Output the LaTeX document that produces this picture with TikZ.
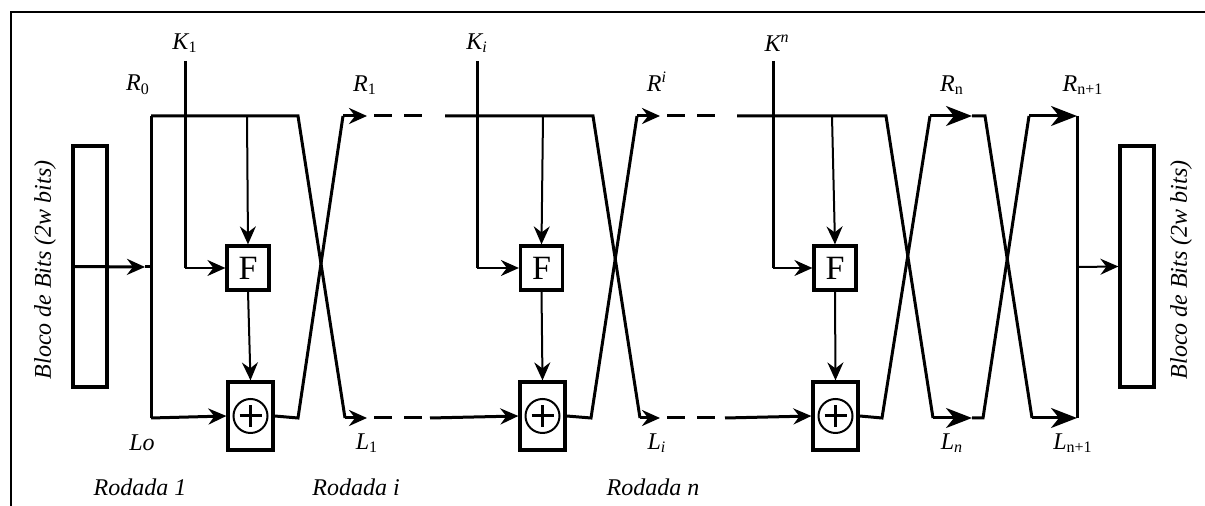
\documentclass[tikz,border=0pt]{standalone}
\usepackage{fontspec}
\setmainfont{Liberation Serif}
\usetikzlibrary{arrows.meta}
\begin{document}
\begin{tikzpicture}[x=0.5pt,y=-0.5pt,
  thk/.style={line width=1.5pt},
  thn/.style={line width=1pt},
  dsh/.style={line width=1.5pt, dash pattern=on 9pt off 6pt},
  sa/.style={-{Stealth[length=9pt,width=8pt,inset=3pt]}},
  ba/.style={-{Stealth[length=13pt,width=10pt,inset=4pt]}},
  box/.style={draw, line width=1.6pt, inner sep=0pt},
  blk/.style={box, minimum width=17pt, minimum height=120.5pt},
  fbox/.style={box, minimum width=21pt, minimum height=22pt, font=\fontsize{17}{17}\selectfont},
  xbox/.style={box, minimum width=22.5pt, minimum height=34pt},
  lbl/.style={font=\fontsize{12}{14}\selectfont\itshape, inner sep=0pt},
  ]
\useasboundingbox (0,0) rectangle (1205,506);
\draw[line width=1.2pt] (1205,12) -- (11,12) -- (11,506);

% blocks
\node[blk] (inblk) at (90,266.5) {};
\node[blk] (outblk) at (1137,266.5) {};
\node[lbl, rotate=90] (intext) at (45,270) {Bloco de Bits (2w bits)};
\node[lbl, rotate=90] (outtext) at (1181,270) {Bloco de Bits (2w bits)};

% function and xor boxes
\node[fbox] (F1) at (248,268) {F};
\node[fbox] (F2) at (541.5,268) {F};
\node[fbox] (F3) at (835,268) {F};
\node[xbox] (X1) at (250.5,416) {};
\node[xbox] (X2) at (542.5,416) {};
\node[xbox] (X3) at (835.5,416) {};
\foreach \x in {X1,X2,X3}{
  \draw[line width=1pt] (\x.center) circle (8.5pt);
  \draw[line width=1.5pt] ([xshift=-5.5pt]\x.center) -- ([xshift=5.5pt]\x.center);
  \draw[line width=1.5pt] ([yshift=-5.5pt]\x.center) -- ([yshift=5.5pt]\x.center);
}

% labels
\node[lbl] (k1l) at (185,43) {K\textsubscript{\upshape 1}};
\node[lbl] (kil) at (477,43) {K\textsubscript{i}};
\node[lbl] (knl) at (777,43) {K\textsuperscript{n}};
\node[lbl] (r0l) at (138,85) {R\textsubscript{\upshape 0}};
\node[lbl] (r1l) at (365,85) {R\textsubscript{\upshape 1}};
\node[lbl] (ril) at (657,82) {R\textsuperscript{i}};
\node[lbl] (rnl) at (952,85) {R\textsubscript{\upshape n}};
\node[lbl] (rn1l) at (1083,85) {R\textsubscript{\upshape n+1}};
\node[lbl] (l0l) at (142,443) {Lo};
\node[lbl] (l1l) at (367,443) {L\textsubscript{\upshape 1}};
\node[lbl] (lil) at (657,443) {L\textsubscript{i}};
\node[lbl] (lnl) at (952,443) {L\textsubscript{n}};
\node[lbl] (ln1l) at (1073,443) {L\textsubscript{\upshape n+1}};
\node[lbl] (rod1) at (140,487) {Rodada 1};
\node[lbl] (rodi) at (356,487) {Rodada i};
\node[lbl] (rodn) at (653,487) {Rodada n};

% ---------- round 1
\coordinate (in1) at (145,267);
\coordinate (s1) at (151,267);
\coordinate (tl1) at (151,116);
\coordinate (bl1) at (151,418);
\coordinate (tr1) at (298,116);
\coordinate (br1) at (298,418);
\coordinate (to1) at (343,116);
\coordinate (bo1) at (345,418);
\coordinate (k1t) at (185,61);
\coordinate (k1c) at (185,268);
\coordinate (f1t) at (247,116);
\draw[thk, sa] (inblk.west) -- (in1);
\draw[thk] (in1) -- (s1);
\draw[thk] (tl1) -- (bl1);
\draw[thk] (tl1) -- (tr1) -- (bo1);
\draw[thk] (X1.east) -- (br1) -- (to1);
\draw[thk, sa] (bl1) -- (X1.west);
\draw[thk] (k1t) -- (k1c);
\draw[thn, sa] (k1c) -- (F1.west);
\draw[thn, sa] (f1t) -- (F1.north);
\draw[thn, sa] (F1.south) -- (X1.north);
\coordinate (a1t) at (367,116);
\coordinate (a1b) at (367,418);
\coordinate (d1ts) at (374,116);
\coordinate (d1te) at (425,116);
\coordinate (d1bs) at (374,418);
\coordinate (d1be) at (425,418);
\draw[thk, sa] (to1) -- (a1t);
\draw[thk, sa] (bo1) -- (a1b);
\draw[dsh] (d1ts) -- (d1te);
\draw[dsh] (d1bs) -- (d1be);

% ---------- round 2
\coordinate (tl2) at (445,116);
\coordinate (bl2) at (430,418);
\coordinate (tr2) at (593,116);
\coordinate (br2) at (591,418);
\coordinate (to2) at (637,116);
\coordinate (bo2) at (640,418);
\coordinate (k2t) at (477,61);
\coordinate (k2c) at (477,268);
\coordinate (f2t) at (543,116);
\draw[thk] (tl2) -- (tr2) -- (bo2);
\draw[thk] (X2.east) -- (br2) -- (to2);
\draw[thk, sa] (bl2) -- (X2.west);
\draw[thk] (k2t) -- (k2c);
\draw[thn, sa] (k2c) -- (F2.west);
\draw[thn, sa] (f2t) -- (F2.north);
\draw[thn, sa] (F2.south) -- (X2.north);
\coordinate (a2t) at (660,116);
\coordinate (a2b) at (660,418);
\coordinate (d2ts) at (667,116);
\coordinate (d2te) at (719,116);
\coordinate (d2bs) at (667,418);
\coordinate (d2be) at (719,418);
\draw[thk, sa] (to2) -- (a2t);
\draw[thk, sa] (bo2) -- (a2b);
\draw[dsh] (d2ts) -- (d2te);
\draw[dsh] (d2bs) -- (d2be);

% ---------- round 3
\coordinate (tl3) at (737,116);
\coordinate (bl3) at (725,418);
\coordinate (tr3) at (886,116);
\coordinate (br3) at (882,418);
\coordinate (to3) at (930,116);
\coordinate (bo3) at (933,418);
\coordinate (k3t) at (773,61);
\coordinate (k3c) at (773,268);
\coordinate (f3t) at (832,116);
\draw[thk] (tl3) -- (tr3) -- (bo3);
\draw[thk] (X3.east) -- (br3) -- (to3);
\draw[thk, sa] (bl3) -- (X3.west);
\draw[thk] (k3t) -- (k3c);
\draw[thn, sa] (k3c) -- (F3.west);
\draw[thn, sa] (f3t) -- (F3.north);
\draw[thn, sa] (F3.south) -- (X3.north);

% final swap
\coordinate (a3t) at (972,116);
\coordinate (a3b) at (972,418);
\coordinate (t4) at (985,116);
\coordinate (b4) at (983,418);
\coordinate (to4) at (1029,116);
\coordinate (bo4) at (1032,418);
\coordinate (e4t) at (1077,116);
\coordinate (e4b) at (1077,418);
\coordinate (e4m) at (1077,267);
\draw[thk, ba] (to3) -- (a3t);
\draw[thk] (a3t) -- (t4) -- (bo4);
\draw[thk, ba] (bo3) -- (a3b);
\draw[thk] (a3b) -- (b4) -- (to4);
\draw[thk, ba] (to4) -- (e4t);
\draw[thk, ba] (bo4) -- (e4b);
\draw[thk] (e4t) -- (e4b);
\draw[thn, sa] (e4m) -- (outblk.west);
\end{tikzpicture}
\end{document}
